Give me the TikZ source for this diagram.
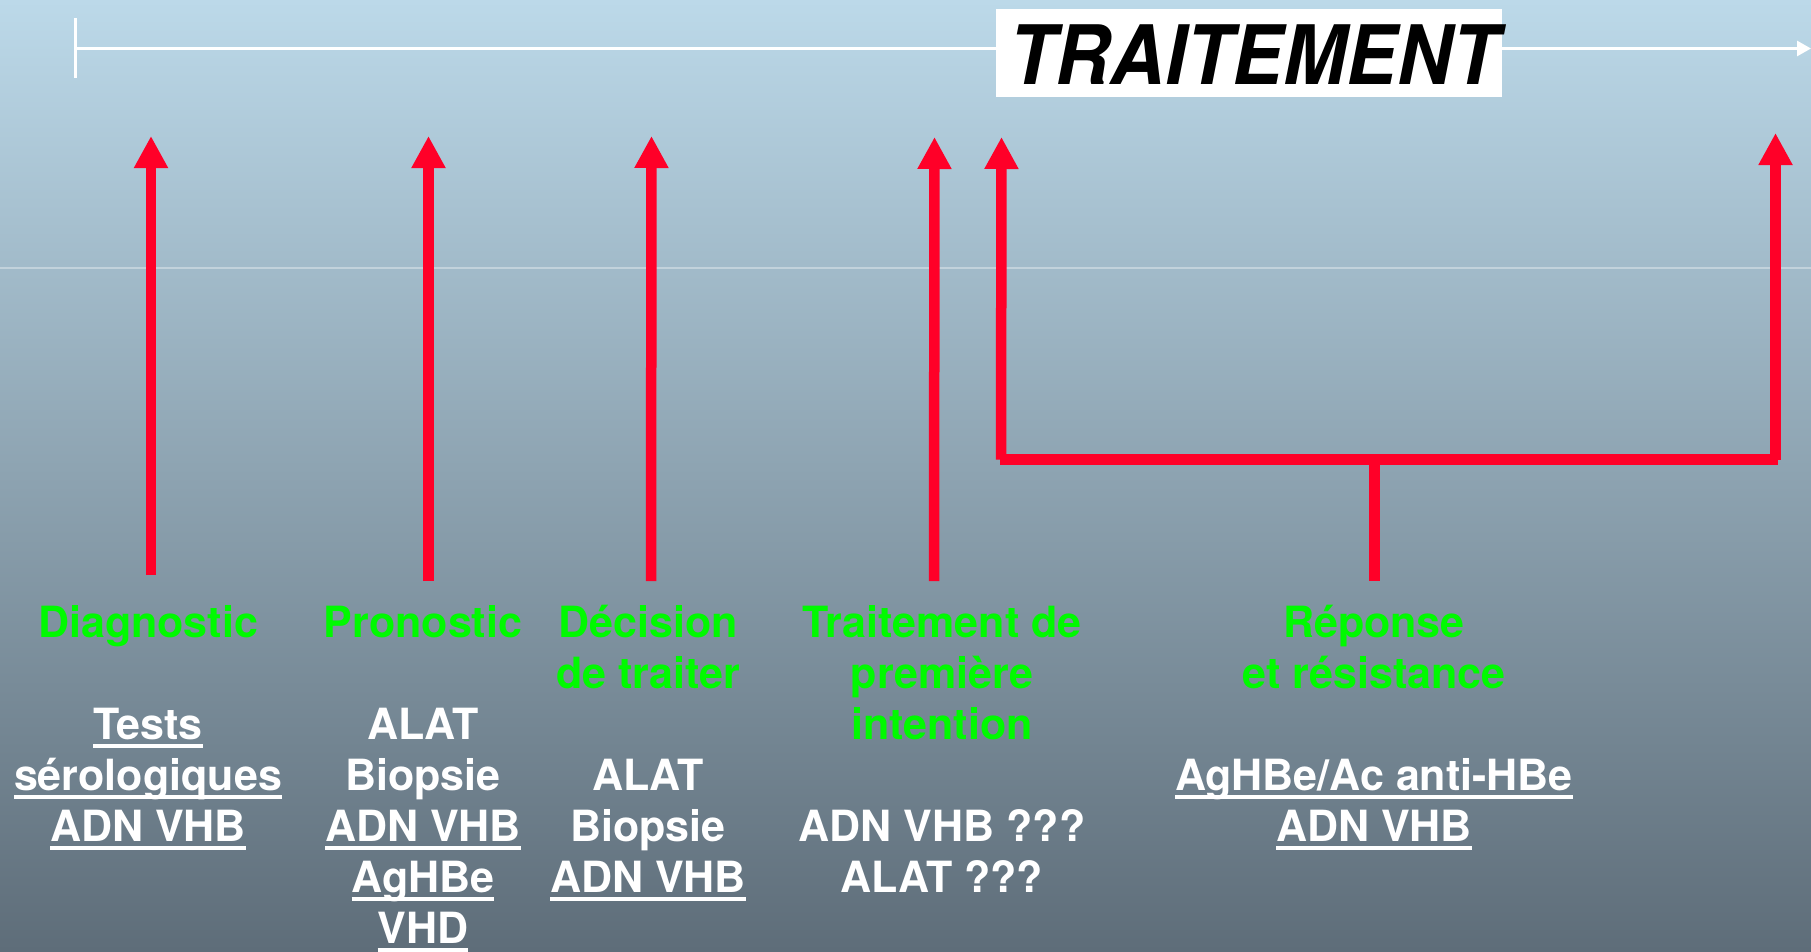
\documentclass[tikz,border=0pt]{standalone}
\usepackage{fontspec}
\setmainfont{TeX Gyre Heros}
\usetikzlibrary{arrows.meta}
\definecolor{redarr}{RGB}{255,0,40}
\definecolor{grn}{RGB}{0,250,0}
\definecolor{bgtop}{RGB}{188,217,233}
\definecolor{bgbot}{RGB}{94,109,121}
\newcommand\ulin[1]{\setbox0\hbox{#1}\rlap{\smash{\raisebox{-8.5pt}{\rule{\wd0}{3.5pt}}}}\box0}
\begin{document}
\begin{tikzpicture}[x=1pt,y=-1pt,
  txt/.style={anchor=base,inner sep=0pt,font=\bfseries\fontsize{43}{51}\selectfont},
  gtxt/.style={txt,text=grn},
  wtxt/.style={txt,text=white},
  redarrow/.style={draw=redarr,line width=10.5pt,-{Triangle[length=32pt,width=32pt]}},
  redline/.style={draw=redarr,line width=10.5pt},
  timeline/.style={draw=white,line width=2.7pt}]
\useasboundingbox (0,0) rectangle (1811,951);
\shade[top color=bgtop,bottom color=bgbot] (0,0) rectangle (1811,951);
\draw[white,opacity=0.35,line width=1.2pt] (0,268) -- (1811,268);
% timeline
\coordinate (tl0) at (75.5,48.5);
\coordinate (tl1) at (1811,48.5);
\coordinate (tk0) at (75.5,18);
\coordinate (tk1) at (75.5,78);
\draw[timeline,-{Triangle[length=14pt,width=15pt]}] (tl0) -- (tl1);
\draw[draw=white,line width=3pt] (tk0) -- (tk1);
\node (trbox) [fill=white,minimum width=506pt,minimum height=88pt,inner sep=0pt] at (1249,53) {};
\node (trtxt) [anchor=base,inner sep=0pt,text=black] at (1254,84)
  {\scalebox{0.925}[1]{\bfseries\itshape\fontsize{82}{82}\selectfont TRAITEMENT}};
% red arrows
\coordinate (a1b) at (151,575);   \coordinate (a1t) at (151,136);
\coordinate (a2b) at (428.5,581); \coordinate (a2t) at (428.5,136);
\coordinate (a3b) at (651,581);   \coordinate (a3t) at (651.5,136);
\coordinate (a4b) at (934,581);   \coordinate (a4t) at (934.5,137);
\coordinate (a5b) at (1001,459.5);\coordinate (a5t) at (1001.5,137);
\coordinate (a6b) at (1775.5,459.5);\coordinate (a6t) at (1775.5,133);
\coordinate (brl) at (1000,459.5); \coordinate (brr) at (1778,459.5);
\coordinate (stt) at (1374.5,459.5); \coordinate (stb) at (1374.5,581);
\draw[redarrow] (a1b) -- (a1t);
\draw[redarrow] (a2b) -- (a2t);
\draw[redarrow] (a3b) -- (a3t);
\draw[redarrow] (a4b) -- (a4t);
\draw[redarrow] (a5b) -- (a5t);
\draw[redarrow] (a6b) -- (a6t);
\draw[redline] (brl) -- (brr);
\draw[redline] (stt) -- (stb);
% column 1
\node[gtxt] (c1g1) at (148,637) {Diagnostic};
\node[wtxt] (c1w1) at (148,739) {\ulin{Tests}};
\node[wtxt] (c1w2) at (148,790) {\ulin{sérologiques}};
\node[wtxt] (c1w3) at (148,841) {\ulin{ADN VHB}};
% column 2
\node[gtxt] (c2g1) at (423,637) {Pronostic};
\node[wtxt] (c2w1) at (423,739) {ALAT};
\node[wtxt] (c2w2) at (423,790) {Biopsie};
\node[wtxt] (c2w3) at (423,841) {\ulin{ADN VHB}};
\node[wtxt] (c2w4) at (423,892) {\ulin{AgHBe}};
\node[wtxt] (c2w5) at (423,943) {\ulin{VHD}};
% column 3
\node[gtxt] (c3g1) at (648,637) {Décision};
\node[gtxt] (c3g2) at (648,688) {de traiter};
\node[wtxt] (c3w1) at (648,790) {ALAT};
\node[wtxt] (c3w2) at (648,841) {Biopsie};
\node[wtxt] (c3w3) at (648,892) {\ulin{ADN VHB}};
% column 4
\node[gtxt] (c4g1) at (942,637) {Traitement de};
\node[gtxt] (c4g2) at (942,688) {première};
\node[gtxt] (c4g3) at (942,739) {intention};
\node[wtxt] (c4w1) at (942,841) {ADN VHB ???};
\node[wtxt] (c4w2) at (942,892) {ALAT ???};
% column 5
\node[gtxt] (c5g1) at (1374,637) {Réponse};
\node[gtxt] (c5g2) at (1374,688) {et résistance};
\node[wtxt] (c5w1) at (1374,790) {\ulin{AgHBe/Ac anti-HBe}};
\node[wtxt] (c5w2) at (1374,841) {\ulin{ADN VHB}};
\end{tikzpicture}
\end{document}
